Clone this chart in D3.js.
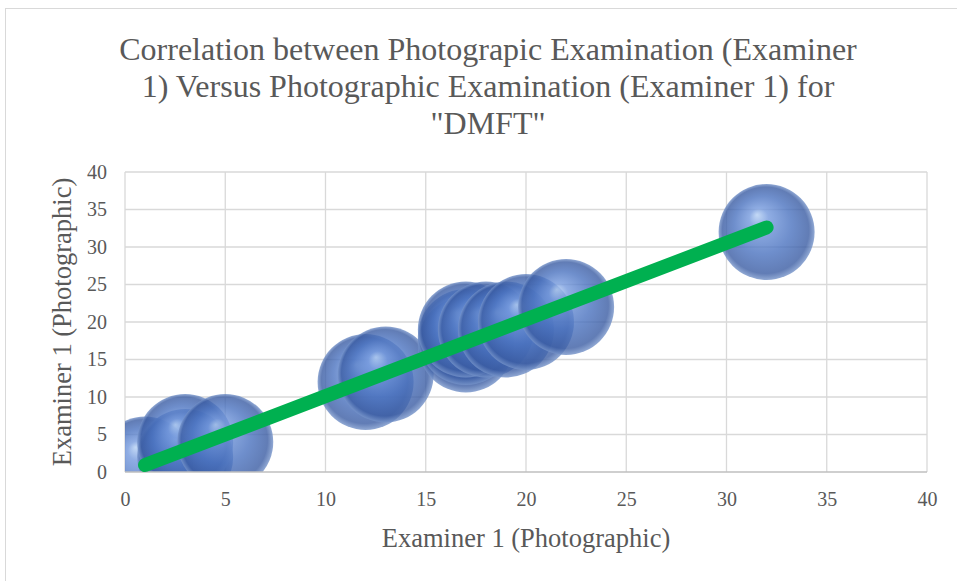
<!DOCTYPE html>
<html>
<head>
<meta charset="utf-8">
<script src="https://cdn.jsdelivr.net/npm/d3@7"></script>
<style>
  body { margin: 0; background: #fff; }
  svg text { font-family: "Liberation Serif", "Times New Roman", serif !important; fill: #595959; }
</style>
</head>
<body>
<svg id="chart"></svg>
<script>
// data
const examinerA = [1, 3, 3, 5, 12, 13, 17, 17, 17, 18, 19, 20, 22, 32];
const examinerB = [1, 2, 4, 4, 12, 13, 17, 18, 19, 19, 19, 20, 22, 32];
const tickValues = [0, 5, 10, 15, 20, 25, 30, 35, 40];
const titleLines = [
  "Correlation between Photograpic Examination (Examiner",
  "1) Versus Photographic Examination (Examiner 1) for",
  "\"DMFT\""
];
const xTitle = "Examiner 1 (Photographic)";
const yTitle = "Examiner 1 (Photographic)";

const width = 957, height = 581;
const margin = { top: 172, right: 30, bottom: 109, left: 125 };
const bubbleR = 48;
const serif = "'Liberation Serif', 'Times New Roman', serif";

const points = examinerA.map((x, i) => ({ x, y: examinerB[i] }));

const svg = d3.select("#chart")
  .attr("width", width)
  .attr("height", height);

// chart frame
svg.append("rect")
  .attr("x", 5.5).attr("y", 8.5)
  .attr("width", width + 10).attr("height", height + 10)
  .attr("fill", "#fff").attr("stroke", "#d9d9d9");

let x = d3.scaleLinear().domain([0, 40]).range([margin.left, width - margin.right]);
let y = d3.scaleLinear().domain([0, 40]).range([height - margin.bottom, margin.top]);

const defs = svg.append("defs");
const grad = defs.append("radialGradient")
  .attr("id", "ball")
  .attr("cx", "50%").attr("cy", "50%").attr("r", "50%")
  .attr("fx", "40%").attr("fy", "32%");
[[0, "#b4cff3"], [0.2, "#7499dd"], [0.6, "#4a72bf"], [0.9, "#3a5ca3"], [1, "#7593c9"]]
  .forEach(([o, c]) => grad.append("stop").attr("offset", o).attr("stop-color", c));

defs.append("clipPath").attr("id", "plot")
  .append("rect")
  .attr("x", x(0)).attr("y", y(40))
  .attr("width", x(40) - x(0)).attr("height", y(0) - y(40));

// grid
svg.append("g")
  .attr("stroke", "#d9d9d9").attr("stroke-width", 1.3)
  .call(g => g.selectAll("line.v").data(tickValues).join("line")
    .attr("x1", d => x(d)).attr("x2", d => x(d))
    .attr("y1", y(0)).attr("y2", y(40)))
  .call(g => g.selectAll("line.h").data(tickValues.slice(1)).join("line")
    .attr("class", "h")
    .attr("x1", x(0)).attr("x2", x(40))
    .attr("y1", d => y(d)).attr("y2", d => y(d)));

// bubbles
svg.append("g")
  .attr("clip-path", "url(#plot)")
  .selectAll("circle")
  .data(points)
  .join("circle")
    .attr("cx", d => x(d.x))
    .attr("cy", d => y(d.y))
    .attr("r", bubbleR)
    .attr("fill", "url(#ball)")
    .attr("fill-opacity", 0.8);

// x axis line
svg.append("line")
  .attr("x1", x(0)).attr("x2", x(40))
  .attr("y1", y(0)).attr("y2", y(0))
  .attr("stroke", "#bfbfbf").attr("stroke-width", 1.5);

// linear trend line
const reg = (() => {
  const mx = d3.mean(points, d => d.x), my = d3.mean(points, d => d.y);
  const b = d3.sum(points, d => (d.x - mx) * (d.y - my)) / d3.sum(points, d => (d.x - mx) ** 2);
  return { b, a: my - b * mx };
})();
const [x0, x1] = d3.extent(points, d => d.x);
svg.append("line")
  .attr("x1", x(x0)).attr("y1", y(reg.a + reg.b * x0))
  .attr("x2", x(x1)).attr("y2", y(reg.a + reg.b * x1))
  .attr("stroke", "#00b050").attr("stroke-width", 14)
  .attr("stroke-linecap", "round");

// tick labels
let xAxis = g => g
  .attr("transform", `translate(0,${y(0)})`)
  .call(d3.axisBottom(x).tickValues(tickValues).tickSize(0).tickPadding(20))
  .call(g => g.select(".domain").remove())
  .call(g => g.selectAll("text").attr("font-size", 20).style("font-family", serif).attr("fill", "#595959"));

let yAxis = g => g
  .attr("transform", `translate(${x(0)},0)`)
  .call(d3.axisLeft(y).tickValues(tickValues).tickSize(0).tickPadding(18))
  .call(g => g.select(".domain").remove())
  .call(g => g.selectAll("text").attr("font-size", 20).style("font-family", serif).attr("fill", "#595959"));

svg.append("g").call(xAxis);
svg.append("g").call(yAxis);

// titles
svg.append("g")
  .selectAll("text")
  .data(titleLines)
  .join("text")
    .attr("x", 488)
    .attr("y", (d, i) => 60 + i * 37)
    .attr("text-anchor", "middle")
    .style("font-family", serif)
    .style("font-size", "32px")
    .text(d => d);

svg.append("text")
  .attr("x", x(20)).attr("y", 547)
  .attr("text-anchor", "middle")
  .style("font-family", serif)
  .style("font-size", "26.5px")
  .text(xTitle);

svg.append("text")
  .attr("transform", `translate(71,${y(20)}) rotate(-90)`)
  .attr("text-anchor", "middle")
  .style("font-family", serif)
  .style("font-size", "26.5px")
  .text(yTitle);
</script>
</body>
</html>
